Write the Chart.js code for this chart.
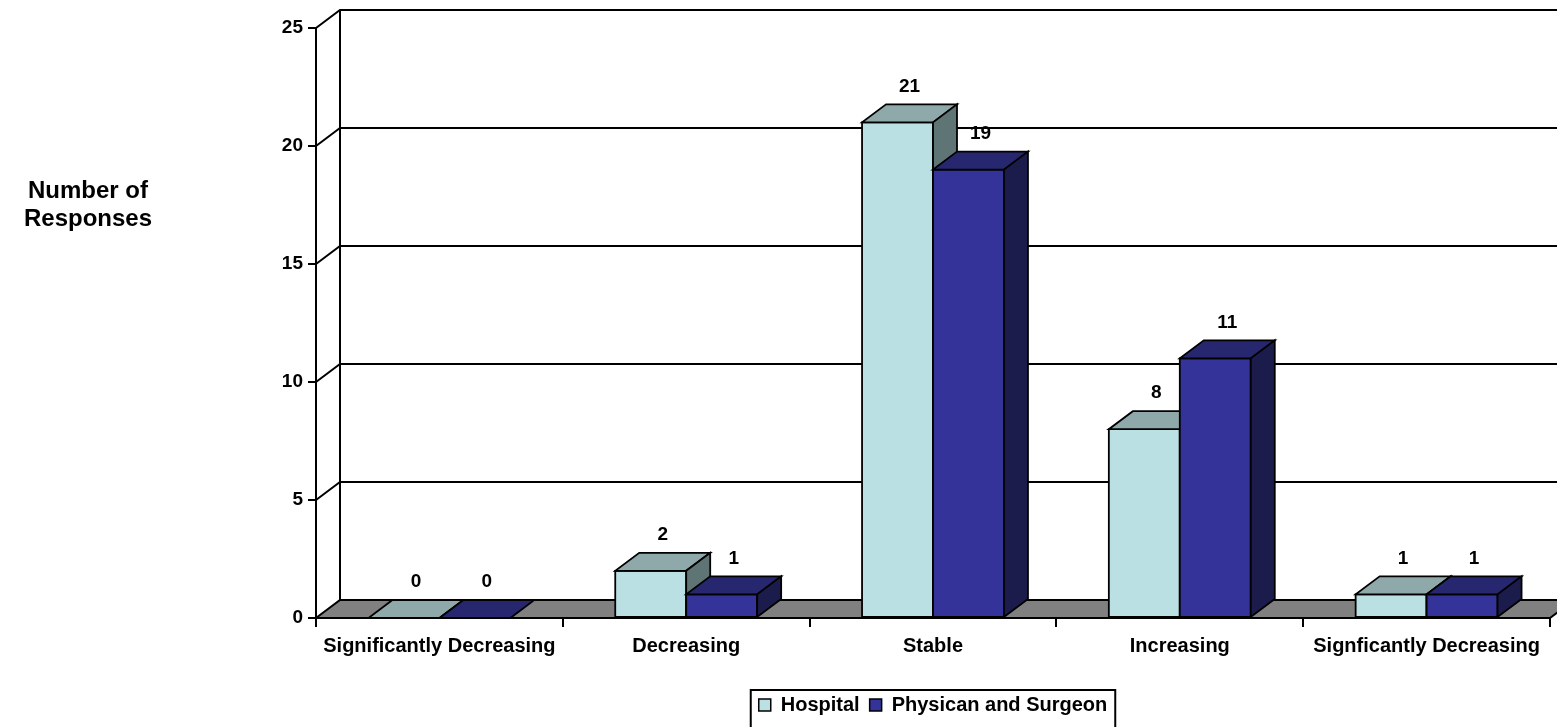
<!DOCTYPE html>
<html>
<head>
<meta charset="utf-8">
<script src="https://cdn.jsdelivr.net/npm/chart.js@4"></script>
<style>
  html, body { margin: 0; padding: 0; background: #fff; }
  canvas { display: block; }
</style>
</head>
<body>
<canvas id="chart" width="1557" height="727"></canvas>
<script>
// Survey answers per trend category
const categories = ['Significantly Decreasing', 'Decreasing', 'Stable', 'Increasing', 'Signficantly Decreasing'];
const hospital = [0, 2, 21, 8, 1];
const physician = [0, 1, 19, 11, 1];
const seriesNames = ['Hospital', 'Physican and Surgeon'];
const yMax = 25;
const yStep = 5;
const yTitleLines = ['Number of', 'Responses'];

// Look of the pseudo-3D box
const FONT = "'Liberation Sans', Arial, sans-serif";
const DX = 24;          // depth shift to the right
const DY = 18;          // depth shift upwards
const EDGE = '#000';
const LINE = 2;
const faces = [
  { front: '#bbe0e3', top: '#8fa9aa', side: '#5f7475' },
  { front: '#333399', top: '#27276f', side: '#1c1c4c' }
];

function shape(ctx, pts, fill) {
  ctx.beginPath();
  ctx.moveTo(pts[0][0], pts[0][1]);
  for (let i = 1; i < pts.length; i++) ctx.lineTo(pts[i][0], pts[i][1]);
  ctx.closePath();
  if (fill) { ctx.fillStyle = fill; ctx.fill(); }
  ctx.stroke();
}

// Side wall, back wall gridlines and the grey floor
const room3d = {
  id: 'room3d',
  beforeDatasetsDraw(chart) {
    const { ctx, chartArea: { left, right, top, bottom }, scales: { y } } = chart;
    ctx.save();
    ctx.strokeStyle = EDGE;
    ctx.lineWidth = LINE;
    y.ticks.forEach(t => {
      if (t.value === 0) return;
      const py = y.getPixelForValue(t.value);
      ctx.beginPath();
      ctx.moveTo(left, py);
      ctx.lineTo(left + DX, py - DY);
      ctx.lineTo(right + DX, py - DY);
      ctx.stroke();
    });
    ctx.beginPath();
    ctx.moveTo(left + DX, top - DY);
    ctx.lineTo(left + DX, bottom - DY);
    ctx.stroke();
    shape(ctx, [[left, bottom], [right, bottom], [right + DX, bottom - DY], [left + DX, bottom - DY]], '#808080');
    ctx.restore();
  }
};

// Boxes with front, top and side faces plus their value labels
const bars3d = {
  id: 'bars3d',
  afterDatasetsDraw(chart) {
    const { ctx } = chart;
    const metas = chart.data.datasets.map((_, d) => chart.getDatasetMeta(d));
    ctx.save();
    ctx.strokeStyle = EDGE;
    ctx.lineWidth = 1.8;
    const labels = [];
    categories.forEach((_, i) => {
      metas.forEach((meta, d) => {
        const el = meta.data[i];
        const { x, y, base, width } = el.getProps(['x', 'y', 'base', 'width'], true);
        const l = x - width / 2, r = x + width / 2;
        const f = faces[d];
        if (base - y > 0.5) shape(ctx, [[l, y], [r, y], [r, base], [l, base]], f.front);
        shape(ctx, [[l, y], [r, y], [r + DX, y - DY], [l + DX, y - DY]], f.top);
        if (base - y > 0.5) shape(ctx, [[r, y], [r + DX, y - DY], [r + DX, base - DY], [r, base]], f.side);
        labels.push({ x: x + DX / 2, y: y - DY - 18, text: String(chart.data.datasets[d].data[i]) });
      });
    });
    ctx.fillStyle = '#000';
    ctx.font = `bold 19px ${FONT}`;
    ctx.textAlign = 'center';
    ctx.textBaseline = 'middle';
    labels.forEach(lb => ctx.fillText(lb.text, lb.x, lb.y));
    ctx.restore();
  }
};

// Horizontal axis title and the frame round the legend
const extras = {
  id: 'extras',
  afterDraw(chart) {
    const { ctx } = chart;
    ctx.save();
    ctx.fillStyle = '#000';
    ctx.font = `bold 24px ${FONT}`;
    ctx.textAlign = 'center';
    ctx.textBaseline = 'alphabetic';
    yTitleLines.forEach((t, k) => ctx.fillText(t, 88, 198 + k * 28));

    const boxes = chart.legend && chart.legend.legendHitBoxes;
    if (boxes && boxes.length) {
      const first = boxes[0], last = boxes[boxes.length - 1];
      const l = first.left - 8;
      const r = last.left + last.width + 8;
      const t = first.top + first.height / 2 - 15;
      ctx.strokeStyle = EDGE;
      ctx.lineWidth = LINE;
      ctx.strokeRect(l, t, r - l, chart.height + 10 - t);
    }
    ctx.restore();
  }
};

const tickFont = { family: FONT, size: 19, weight: 'bold' };
const catFont = { family: FONT, size: 20, weight: 'bold' };

new Chart(document.getElementById('chart'), {
  type: 'bar',
  data: {
    labels: categories,
    datasets: [
      { label: seriesNames[0], data: hospital, backgroundColor: faces[0].front, borderColor: EDGE, borderWidth: 1.5, borderSkipped: false },
      { label: seriesNames[1], data: physician, backgroundColor: faces[1].front, borderColor: EDGE, borderWidth: 1.5, borderSkipped: false }
    ]
  },
  options: {
    responsive: false,
    animation: false,
    devicePixelRatio: 1,
    categoryPercentage: 0.575,
    barPercentage: 1.0,
    layout: { padding: { top: 28, right: 7, bottom: 2, left: 0 } },
    plugins: {
      legend: {
        position: 'bottom',
        fullSize: false,
        labels: { color: '#000', font: catFont, boxWidth: 12, boxHeight: 12, padding: 10 }
      },
      tooltip: { enabled: false }
    },
    scales: {
      x: {
        offset: true,
        grid: { display: true, offset: true, drawOnChartArea: false, drawTicks: true, tickLength: 9, color: EDGE, lineWidth: LINE },
        border: { display: true, color: EDGE, width: LINE },
        ticks: { color: '#000', font: catFont, padding: 7, maxRotation: 0, autoSkip: false },
        afterFit(scale) { scale.height = 67; }
      },
      y: {
        min: 0,
        max: yMax,
        grid: { display: true, drawOnChartArea: false, drawTicks: true, tickLength: 8, color: EDGE, lineWidth: LINE },
        border: { display: true, color: EDGE, width: LINE },
        ticks: { stepSize: yStep, color: '#000', font: tickFont, padding: 5 },
        afterFit(scale) { scale.width = 316; }
      }
    }
  },
  plugins: [room3d, bars3d, extras]
});
</script>
</body>
</html>
